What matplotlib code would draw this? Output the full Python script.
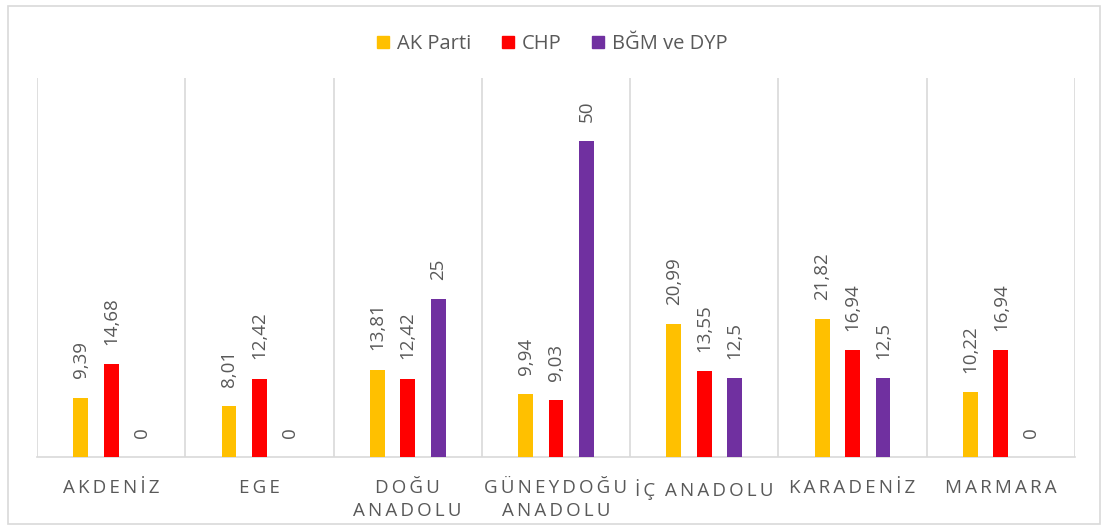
import matplotlib.pyplot as plt
import matplotlib.patches as mpatches
import numpy as np

plt.rcParams['font.family'] = ['Open Sans', 'DejaVu Sans']

regions = ['AKDENİZ', 'EGE', 'DOĞU\nANADOLU', 'GÜNEYDOĞU\nANADOLU',
           'İÇ ANADOLU', 'KARADENİZ', 'MARMARA']
series_names = ['AK Parti', 'CHP', 'BĞM ve DYP']
ak_parti = [9.39, 8.01, 13.81, 9.94, 20.99, 21.82, 10.22]
chp = [14.68, 12.42, 12.42, 9.03, 13.55, 16.94, 16.94]
bgm_dyp = [0, 0, 25, 50, 12.5, 12.5, 0]
colors = ['#FFC000', '#FF0000', '#7030A0']

TXT = '#595959'
GRID = '#D9D9D9'


def spaced(label):
    # Excel-style letter spacing (thin spaces between letters)
    return '\n'.join('\u2009'.join(line).replace('\u2009 \u2009', '  ')
                     for line in label.split('\n'))


def fmt(v):
    return f'{v:g}'.replace('.', ',')


fig = plt.figure(figsize=(11.05, 5.26), dpi=100)
ax = fig.add_axes([37 / 1105, (526 - 457) / 526, (1075 - 37) / 1105, (457 - 78) / 526])

x = np.arange(len(regions))
width = 0.10
offsets = [-0.205, 0, 0.205]
for vals, off, c, name in zip([ak_parti, chp, bgm_dyp], offsets, colors, series_names):
    bars = ax.bar(x + off, vals, width, color=c, label=name, zorder=3)
    for b, v in zip(bars, vals):
        ax.annotate(fmt(v), (b.get_x() + b.get_width() / 2, v),
                    xytext=(0, 14), textcoords='offset points',
                    rotation=90, ha='center', va='bottom',
                    fontsize=13.5, color=TXT)

ax.set_xlim(-0.5, len(regions) - 0.5)
ax.set_ylim(0, 60)
for k in range(len(regions) + 1):
    ax.axvline(k - 0.5, color=GRID, lw=1.2, zorder=1)

for s in ['top', 'right', 'left']:
    ax.spines[s].set_visible(False)
ax.spines['bottom'].set_color(GRID)
ax.spines['bottom'].set_linewidth(1.2)
ax.set_yticks([])
ax.set_xticks(x)
ax.set_xticklabels([spaced(r) for r in regions], fontsize=13.5, color=TXT,
                   linespacing=1.35)
ax.tick_params(axis='x', length=0, pad=16)

handles = [mpatches.Patch(color=c, label=n) for c, n in zip(colors, series_names)]
fig.legend(handles=handles, loc='center', bbox_to_anchor=(0.5, 1 - 44 / 526),
           ncol=3, frameon=False, fontsize=14.5, labelcolor=TXT,
           handlelength=0.6, handleheight=0.6, handletextpad=0.4, columnspacing=1.5)

# chart border
fig.patches.append(mpatches.Rectangle((8 / 1105, 2 / 526), 1092 / 1105, 518 / 526,
                                      transform=fig.transFigure, fill=False,
                                      edgecolor=GRID, lw=1.2))

fig.savefig('out.png', dpi=100)
